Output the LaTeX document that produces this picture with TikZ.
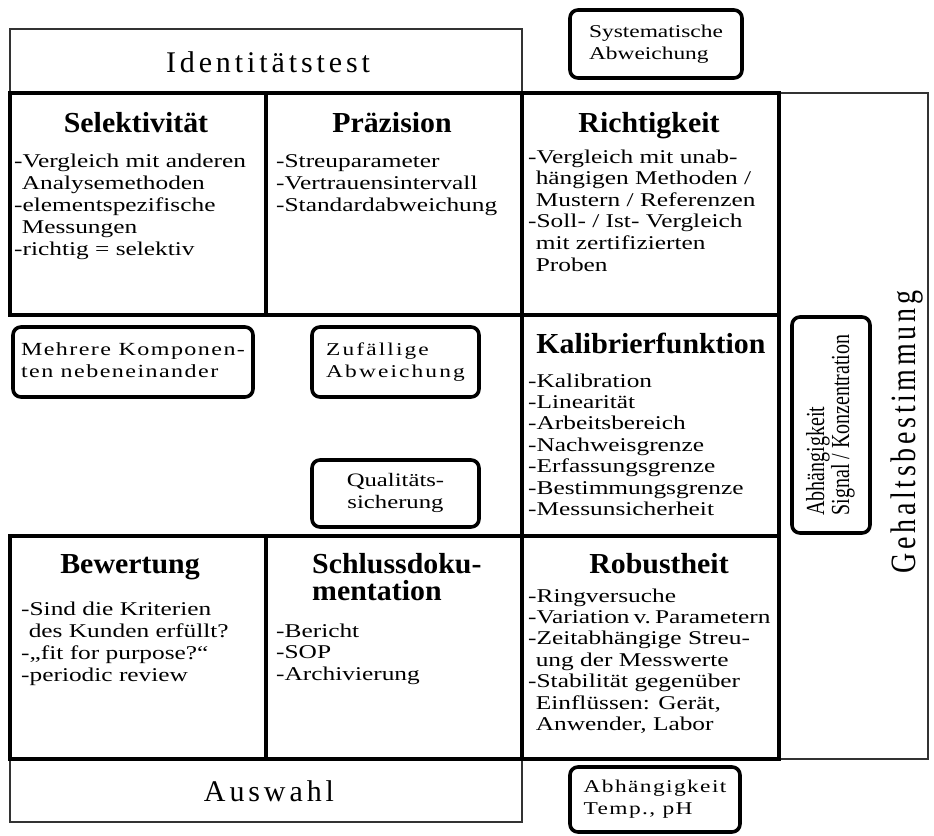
\documentclass[tikz,border=0pt]{standalone}
\usepackage{fontspec}
\setmainfont{Liberation Serif}
\newfontfamily\trackfont[LetterSpace=9]{Liberation Serif}
\newfontfamily\lighttrack[LetterSpace=6]{Liberation Serif}
\newfontfamily\widetrack[LetterSpace=13]{Liberation Serif}
\usepackage{graphicx}

\newcommand{\hstr}[1]{\scalebox{1.3}[1]{\begin{tabular}[t]{@{}l@{}}#1\end{tabular}}}
\newcommand{\hstrc}[1]{\scalebox{1.3}[1]{\begin{tabular}[t]{@{}c@{}}#1\end{tabular}}}
\newcommand{\vstr}[1]{\scalebox{1}[1.3]{\begin{tabular}[t]{@{}l@{}}#1\end{tabular}}}
\newcommand{\hd}[1]{\scalebox{1.03}[1]{\begin{tabular}[t]{@{}l@{}}#1\end{tabular}}}
\newcommand{\ind}{\hspace*{.3em}}
\newcommand{\tsp}{\hspace{.16em}}

\tikzset{
  cell/.style={line width=3.6pt},
  frame/.style={line width=2.4pt, draw=black!80},
  tag/.style={draw, line width=3.6pt, rounded corners=8pt, inner sep=0pt},
  head/.style={font=\fontsize{29}{26}\selectfont\bfseries, inner sep=0pt, anchor=base},
  body/.style={font=\fontsize{19.5}{22}\selectfont, inner sep=0pt, anchor=base west},
  title/.style={font=\widetrack\fontsize{30}{32}\selectfont, anchor=base, inner sep=0pt},
}

\begin{document}
\begin{tikzpicture}[x=1pt, y=-1pt]
\useasboundingbox (0,0) rectangle (934,835);

%% outer frames
\draw[frame] (10,29) rectangle (522,93);
\draw[frame] (779,93) rectangle (928,759);
\draw[frame] (10,759) rectangle (522,822);

%% cells
\draw[cell] (10,93) rectangle (266,315);
\draw[cell] (266,93) rectangle (522,315);
\draw[cell] (522,93) rectangle (779,315);
\draw[cell] (522,315) rectangle (779,536);
\draw[cell] (10,536) rectangle (266,759);
\draw[cell] (266,536) rectangle (522,759);
\draw[cell] (522,536) rectangle (779,759);

%% frame titles
\node[title] (ident) at (268,72) {Identitätstest};
\node[title] (auswahl) at (269,801) {Auswahl};
\node[font=\widetrack\fontsize{28}{30}\selectfont, anchor=base, rotate=90, inner sep=0pt] (gehalt) at (915,432) {\scalebox{1}[1.27]{Gehaltsbestimmung}};

%% row 1
\node[head] (selhead) at (136,132) {\hd{Selektivität}};
\node[body] (selbody) at (14,167) {\hstr{-Vergleich mit anderen\\\ind Analysemethoden\\-elementspezifische\\\ind Messungen\\-richtig = selektiv}};
\node[head] (prhead) at (392,132) {\hd{Präzision}};
\node[body] (prbody) at (276,167) {\hstr{-Streuparameter\\-Vertrauensintervall\\-Standardabweichung}};
\node[head] (richthead) at (649,132) {\hd{Richtigkeit}};
\node[body, font=\fontsize{19.5}{21.6}\selectfont] (richtbody) at (528,163) {\hstr{-Vergleich mit unab-\\\ind hängigen Methoden /\\\ind Mustern / Referenzen\\-Soll- / Ist- Vergleich\\\ind mit zertifizierten\\\ind Proben}};

%% middle
\node[head] (kalhead) at (651,353) {\hd{Kalibrierfunktion}};
\node[body, font=\fontsize{19.5}{21.4}\selectfont] (kalbody) at (528,387) {\hstr{-Kalibration\\-Linearität\\-Arbeitsbereich\\-Nachweisgrenze\\-Erfassungsgrenze\\-Bestimmungsgrenze\\-Messunsicherheit}};

%% row 3
\node[head] (bewhead) at (130,573) {\hd{Bewertung}};
\node[body] (bewbody) at (21,615) {\hstr{-Sind die Kriterien\\\ind des Kunden erfüllt?\\-„fit for purpose?“\\-periodic review}};
\node[head, anchor=base west] (schlusshead) at (312,573) {\hd{Schlussdoku-\\mentation}};
\node[body, font=\fontsize{19.5}{21.5}\selectfont] (schlussbody) at (276,637) {\hstr{-Bericht\\-SOP\\-Archivierung}};
\node[head] (robhead) at (659,573) {\hd{Robustheit}};
\node[body, font=\fontsize{19.5}{21.4}\selectfont] (robbody) at (528,602) {\hstr{-Ringversuche\\-Variation\tsp v.\tsp Parametern\\-Zeitabhängige Streu-\\\ind ung der Messwerte\\-Stabilität gegenüber\\\ind Einflüssen: Gerät,\\\ind Anwender, Labor}};

%% rounded tags
\node[tag, font=\fontsize{18}{22}\selectfont, minimum width=172pt, minimum height=68pt] (sysab) at (656,44) {\hstr{Systematische\\Abweichung}};
\node[tag, font=\lighttrack\fontsize{18.5}{22}\selectfont, minimum width=240pt, minimum height=70pt] (komp) at (133,362) {\hstr{Mehrere Komponen-\\ten nebeneinander}};
\node[tag, font=\trackfont\fontsize{18}{22}\selectfont, minimum width=167pt, minimum height=70pt] (zufall) at (395.5,362) {\hstr{Zufällige\\Abweichung}};
\node[tag, font=\fontsize{19}{22}\selectfont, minimum width=167pt, minimum height=67pt] (quali) at (395.5,493.5) {\hstrc{Qualitäts-\\sicherung}};
\node[tag, font=\fontsize{20}{17.5}\selectfont, minimum width=216pt, minimum height=78pt, rotate=90] (signal) at (831,425) {\vstr{Abhängigkeit\\Signal / Konzentration}};
\node[tag, font=\lighttrack\fontsize{18}{22}\selectfont, minimum width=170pt, minimum height=65pt] (temp) at (655,799.5) {\hstr{Abhängigkeit\\Temp., pH}};

\end{tikzpicture}
\end{document}
